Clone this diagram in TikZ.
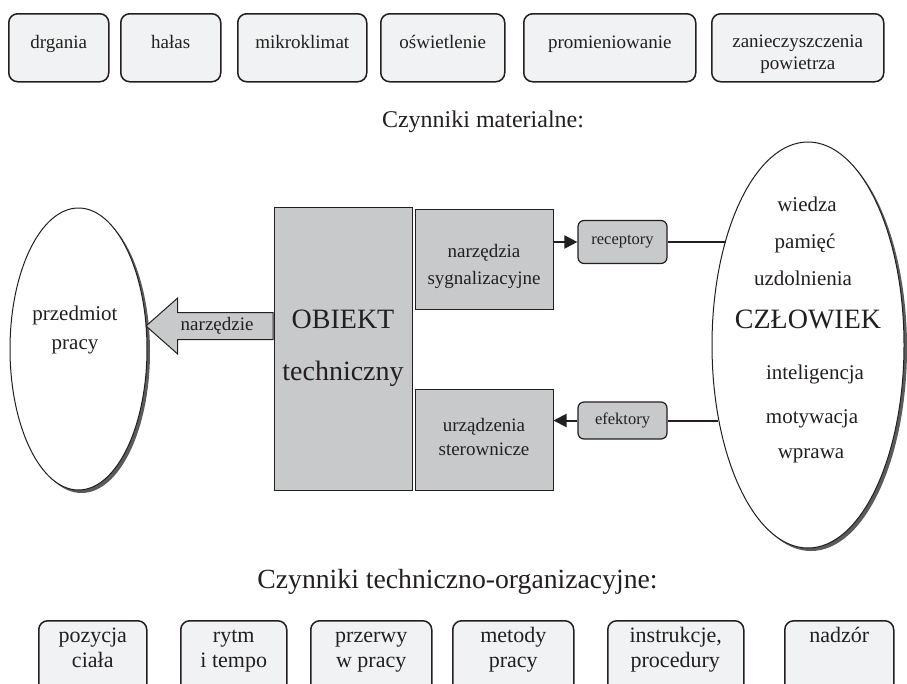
\documentclass[tikz,border=0pt]{standalone}
\usepackage{fontspec}
\setmainfont{Liberation Serif}
\usepackage{tikz}
\usetikzlibrary{arrows.meta,shapes.geometric,shapes.arrows,shadows}
\definecolor{boxfill}{HTML}{F1F2F3}
\definecolor{partfill}{HTML}{C8C9CB}
\definecolor{ink}{HTML}{231F20}
\definecolor{shade}{HTML}{5B5B5B}
\newcommand{\szbox}{\fontsize{19}{22}\selectfont}
\newcommand{\szlow}{\fontsize{22}{25}\selectfont}
\newcommand{\szpart}{\fontsize{19}{27}\selectfont}
\newcommand{\szmid}{\fontsize{21}{29}\selectfont}
\newcommand{\szbig}{\fontsize{28}{52}\selectfont}
\newcommand{\szsmall}{\fontsize{16.5}{19}\selectfont}
\newcommand{\szhead}{\fontsize{24}{28}\selectfont}
\newcommand{\szheadb}{\fontsize{27.7}{32}\selectfont}

\begin{document}
\begin{tikzpicture}[x=1pt,y=-1pt,font=\szbox,text=ink,
  factor/.style={draw=ink,line width=1.5pt,rounded corners=9pt,fill=boxfill,anchor=north west,inner sep=0pt},
  part/.style={draw=ink,line width=1pt,fill=partfill,inner sep=0pt,align=center},
  sense/.style={draw=ink,line width=1.2pt,rounded corners=6pt,fill=partfill,inner sep=0pt,font=\szsmall},
  body/.style={ellipse,draw=ink,line width=1pt,fill=white,
    drop shadow={shadow xshift=3pt,shadow yshift=-3pt,fill=shade,opacity=1}},
  link/.style={draw=ink,line width=2pt}]
 \path[use as bounding box,clip] (0,0) rectangle (907,683);
 % material factors (last number: baseline of the last text line below the box top)
 \foreach \name/\xa/\w/\txt/\yb in {drg/8/100/drgania/35, hal/120/100/hałas/35, mik/237/129/mikroklimat/35,
   osw/380/124/oświetlenie/35, pro/523/172/promieniowanie/35, zan/711/172/{zanieczyszczenia\\powietrza}/56} {
   \node[factor,minimum width=\w pt,minimum height=68pt] (\name) at (\xa,13) {};
   \node[anchor=base,align=center] (\name-txt) at ([yshift=-\yb pt]\name.north) {\txt};
 }
 \node[anchor=base,font=\szhead] (materialne) at (483,127) {Czynniki materialne:};
 % object of work and the tool arrow
 \node[body,minimum width=137pt,minimum height=282pt] (przedmiot) at (78.5,349) {};
 \node[anchor=base,align=center,font=\szmid] (przedmiot-txt) at (75,349) {przedmiot\\pracy};
 \node[part,minimum width=138pt,minimum height=283pt,font=\szbig] (obiekt) at (343,348.5) {OBIEKT\\techniczny};
 \node[single arrow,draw=ink,line width=1pt,fill=partfill,shape border rotate=180,
   single arrow head extend=14.5pt,single arrow tip angle=83,minimum height=127pt,
   text height=13pt,text depth=4pt,inner ysep=4.5pt,inner xsep=2pt,anchor=tail]
   (narzedzie) at (obiekt.west |- 0,326) {narzędzie};
 \node[part,minimum width=138pt,minimum height=100pt,font=\szpart] (sygnal) at (484,259) {\rule{0pt}{29pt}narzędzia\\sygnalizacyjne};
 \node[part,minimum width=138pt,minimum height=101pt,font=\fontsize{19}{24}\selectfont] (urzadzenia) at (484,439.5) {urządzenia\\sterownicze\rule[-6pt]{0pt}{6pt}};
 \node[sense,minimum width=89pt,minimum height=43pt] (receptory) at (622.5,242) {receptory};
 \node[sense,minimum width=89pt,minimum height=37pt] (efektory) at (622.5,420.5) {efektory};
 % the man
 \node[body,minimum width=192pt,minimum height=406pt] (czlowiek) at (808,345) {};
 \foreach \x/\y/\t [count=\i] in {807/211/wiedza, 805/248/pamięć, 803/285/uzdolnienia,
   815/379/inteligencja, 812/423/motywacja, 811/458/wprawa}
   \node[anchor=base,font=\szmid] (cecha-\i) at (\x,\y) {\t};
 \node[anchor=base,font=\szbig] (czlowiek-txt) at (808,328) {CZŁOWIEK};
 \draw[link,-{Triangle[length=13pt,width=13pt]}] (sygnal.east |- receptory.west) -- (receptory.west);
 \draw[link,-{Triangle[length=13pt,width=13pt]}] (efektory.west) -- (efektory.west -| urzadzenia.east);
 \draw[link] (receptory.east) -- (receptory.east -| czlowiek.128.4);
 \draw[link] (efektory.east) -- (efektory.east -| czlowiek.220.5);
 % technical and organisational factors
 \node[anchor=base,font=\szheadb] (organizacyjne) at (457.5,588) {Czynniki techniczno-organizacyjne:};
 \foreach \name/\xa/\w/\txt/\yb in {poz/38/108/{pozycja\\ciała}/47, rytm/180/106/{rytm\\i tempo}/47,
   prz/310/121/{przerwy\\w pracy}/47, met/452/121/{metody\\pracy}/47,
   ins/607/136/{instrukcje,\\procedury\kern1pt}/47, nad/784/109/nadzór/22} {
   \node[factor,minimum width=\w pt,minimum height=80pt] (\name) at (\xa,620) {};
   \node[anchor=base,align=center,font=\szlow] (\name-txt) at ([yshift=-\yb pt]\name.north) {\txt};
 }
\end{tikzpicture}
\end{document}
